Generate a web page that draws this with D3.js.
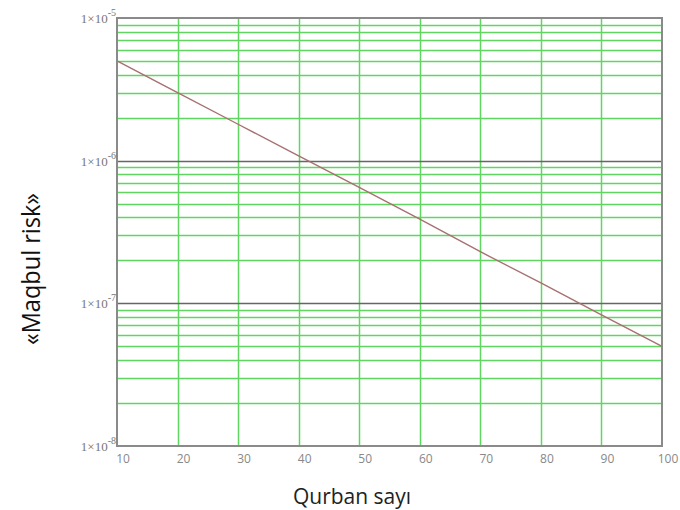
<!DOCTYPE html>
<html>
<head>
<meta charset="utf-8">
<script src="https://cdn.jsdelivr.net/npm/d3@7"></script>
<style>
  body { margin: 0; background: #fff; }
</style>
</head>
<body>
<div id="chart"></div>
<script>
// Chart data
var xValues = [10, 20, 30, 40, 50, 60, 70, 80, 90, 100];
var riskValues = [5e-6, 3.0e-6, 1.8e-6, 1.08e-6, 6.5e-7, 3.9e-7, 2.3e-7, 1.39e-7, 8.3e-8, 5e-8];
var xTicks = [10, 20, 30, 40, 50, 60, 70, 80, 90, 100];
var yDecades = [1e-5, 1e-6, 1e-7, 1e-8];
var yExponents = ["-5", "-6", "-7", "-8"];
var xTitle = "Qurban sayı";
var yTitle = "«Maqbul risk»";

var svgWidth = 680;
var svgHeight = 510;

var margin = { top: 18, right: 18, bottom: 64, left: 117 };
var width = svgWidth - margin.left - margin.right;
var height = svgHeight - margin.top - margin.bottom;

var svg = d3.select("#chart")
  .append("svg")
  .attr("width", svgWidth)
  .attr("height", svgHeight);

var chartGroup = svg.append("g")
  .attr("transform", `translate(${margin.left}, ${margin.top})`);

var xScale = d3.scaleLinear()
  .domain([10, 100])
  .range([0, width]);

var yScale = d3.scaleLog()
  .domain([1e-8, 1e-5])
  .range([height, 0]);

// minor horizontal grid (2..9 in each decade)
var minorTicks = yScale.ticks().filter(d => yDecades.indexOf(d) < 0);
chartGroup.selectAll(".minor")
  .data(minorTicks)
  .enter()
  .append("line")
  .attr("x1", 0)
  .attr("x2", width)
  .attr("y1", d => Math.round(yScale(d)) + 0.5)
  .attr("y2", d => Math.round(yScale(d)) + 0.5)
  .attr("stroke", "#5fd65f")
  .attr("stroke-width", 1.3);

// vertical grid
chartGroup.selectAll(".vgrid")
  .data(xTicks.slice(1, -1))
  .enter()
  .append("line")
  .attr("x1", d => Math.round(xScale(d)) + 0.5)
  .attr("x2", d => Math.round(xScale(d)) + 0.5)
  .attr("y1", 0)
  .attr("y2", height)
  .attr("stroke", "#5fd65f")
  .attr("stroke-width", 1.5);

// decade lines
chartGroup.selectAll(".decade")
  .data(yDecades.slice(1, -1))
  .enter()
  .append("line")
  .attr("x1", 0)
  .attr("x2", width)
  .attr("y1", d => Math.round(yScale(d)) + 0.5)
  .attr("y2", d => Math.round(yScale(d)) + 0.5)
  .attr("stroke", "#666")
  .attr("stroke-width", 1.3);

// risk line
var line = d3.line()
  .x(d => xScale(d[0]))
  .y(d => yScale(d[1]));

chartGroup.append("path")
  .datum(xValues.map((x, i) => [x, riskValues[i]]))
  .attr("d", line)
  .attr("fill", "none")
  .attr("stroke", "#a87070")
  .attr("stroke-width", 1.4);

// frame
chartGroup.append("rect")
  .attr("x", 0)
  .attr("y", 0)
  .attr("width", width)
  .attr("height", height)
  .attr("fill", "none")
  .attr("stroke", "#8a8a8a")
  .attr("stroke-width", 2);

// y tick labels 1x10^n
var yLabels = chartGroup.selectAll(".ylab")
  .data(yDecades)
  .enter()
  .append("text")
  .attr("x", -1)
  .attr("y", d => yScale(d) + 5)
  .attr("text-anchor", "end")
  .attr("font-family", "Liberation Serif, serif")
  .attr("font-size", "13px")
  .attr("fill", "#777");

yLabels.append("tspan").text("1×10");
yLabels.append("tspan")
  .attr("dy", -7)
  .attr("font-size", "10px")
  .text((d, i) => yExponents[i]);

// x tick labels
chartGroup.selectAll(".xlab")
  .data(xTicks)
  .enter()
  .append("text")
  .attr("x", d => xScale(d) + 6)
  .attr("y", height + 17)
  .attr("text-anchor", "middle")
  .attr("font-family", "Open Sans, sans-serif")
  .attr("font-size", "12px")
  .attr("fill", "#888")
  .text(d => d);

// axis titles
svg.append("text")
  .attr("x", 352)
  .attr("y", 504)
  .attr("text-anchor", "middle")
  .attr("font-family", "Open Sans, sans-serif")
  .attr("font-size", "21px")
  .attr("fill", "#222")
  .text(xTitle);

svg.append("text")
  .attr("transform", "translate(40, 269) rotate(-90)")
  .attr("text-anchor", "middle")
  .attr("font-family", "Open Sans, sans-serif")
  .attr("font-size", "26px")
  .attr("textLength", 152)
  .attr("lengthAdjust", "spacingAndGlyphs")
  .attr("fill", "#111")
  .text(yTitle);
</script>
</body>
</html>
